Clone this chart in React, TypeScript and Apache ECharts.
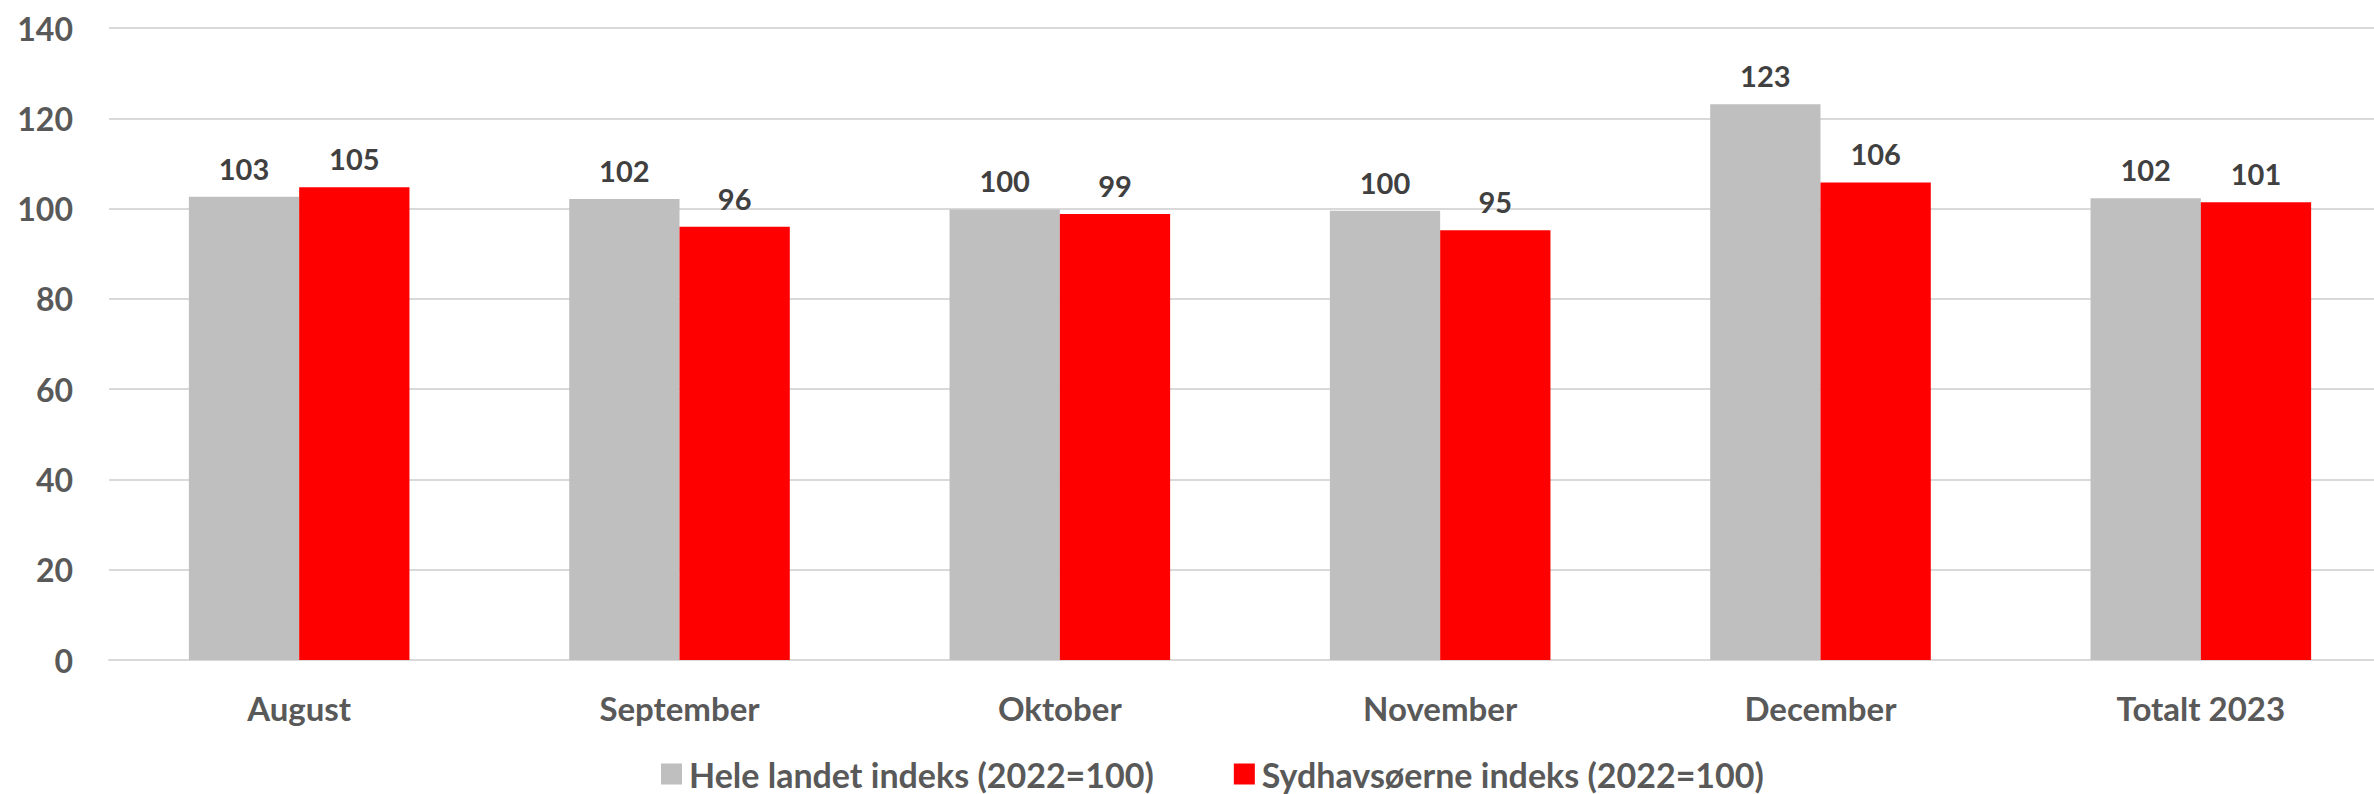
import React, { useEffect, useRef } from "react";
import * as echarts from "echarts";

const categories = ["August", "September", "Oktober", "November", "December", "Totalt 2023"];
const heleLandet = [102.6, 102.1, 99.8, 99.5, 123.1, 102.3];
const sydhavsoerne = [104.7, 96.0, 98.8, 95.2, 105.8, 101.4];
const seriesNames = ["Hele landet indeks (2022=100)", "Sydhavsøerne indeks (2022=100)"];
const yTicks = { min: 0, max: 140, interval: 20 };

const FONT = "Lato";

export default function App() {
  const ref = useRef<HTMLDivElement>(null);
  useEffect(() => {
    document.body.style.margin = "0";
    document.body.style.overflow = "hidden";
    const chart = echarts.init(ref.current!, undefined, { renderer: "svg" });
    const label = {
      show: true,
      position: "top",
      distance: 14,
      fontFamily: FONT,
      fontWeight: "bold",
      fontSize: 29,
      color: "#404040",
      formatter: (p: any) => String(Math.round(p.value)),
    };
    chart.setOption({
      animation: false,
      backgroundColor: "#ffffff",
      grid: { left: 109, right: 0, top: 28, bottom: 134, containLabel: false },
      legend: {
        top: 752,
        left: 656,
        itemWidth: 21,
        itemHeight: 21,
        itemGap: 80,
        icon: "rect",
        textStyle: { fontFamily: FONT, fontWeight: "bold", fontSize: 34, color: "#595959", padding: [0, 0, 0, 2] },
        data: seriesNames,
      },
      xAxis: {
        type: "category",
        data: categories,
        axisLine: { lineStyle: { color: "#d9d9d9", width: 2 } },
        axisTick: { show: false },
        axisLabel: { fontFamily: FONT, fontWeight: "bold", fontSize: 33, color: "#595959", margin: 31 },
      },
      yAxis: {
        type: "value",
        min: yTicks.min,
        max: yTicks.max,
        interval: yTicks.interval,
        axisLine: { show: false },
        axisTick: { show: false },
        splitLine: { lineStyle: { color: "#d9d9d9", width: 2 } },
        axisLabel: { fontFamily: FONT, fontWeight: "bold", fontSize: 32, color: "#595959", margin: 36 },
      },
      series: [
        {
          name: seriesNames[0],
          type: "bar",
          data: heleLandet,
          itemStyle: { color: "#bfbfbf" },
          barGap: "0%",
          barCategoryGap: "42%",
          label,
        },
        {
          name: seriesNames[1],
          type: "bar",
          data: sydhavsoerne,
          itemStyle: { color: "#ff0000" },
          barGap: "0%",
          barCategoryGap: "42%",
          label,
        },
      ],
    });
    return () => chart.dispose();
  }, []);
  return (
    <div style={{ position: "absolute", left: 0, top: 0, width: 2374, height: 794, overflow: "hidden" }}>
      <div ref={ref} style={{ width: 2391, height: 794 }} />
    </div>
  );
}
